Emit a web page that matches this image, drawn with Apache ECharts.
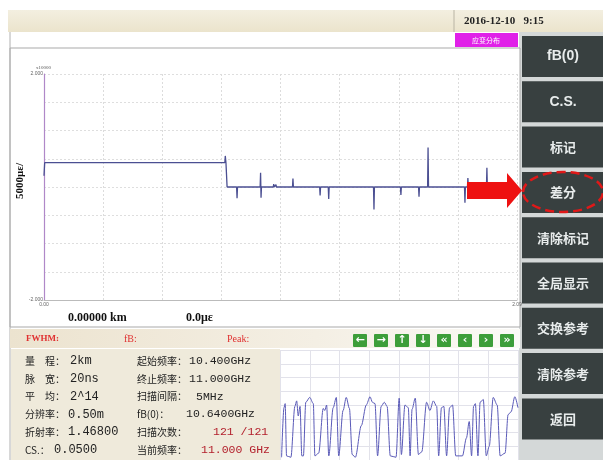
<!DOCTYPE html>
<html><head><meta charset="utf-8">
<script src="https://cdn.jsdelivr.net/npm/echarts@6/dist/echarts.min.js"></script>
<style>html,body{margin:0;padding:0;background:#fff}#c{width:603px;height:460px}</style>
</head><body><div id="c"></div>
<script>
// ---- main strain trace (distance km, strain x10000 με) ----
var distKm = [0, 0.003, 0.799, 0.801, 0.804, 0.806, 0.809, 0.851, 0.853, 0.855, 0.955, 0.957, 0.959, 0.961, 1.013, 1.015, 1.017, 1.023, 1.025, 1.027, 1.098, 1.100, 1.102, 1.218, 1.220, 1.222, 1.256, 1.258, 1.260, 1.456, 1.458, 1.460, 1.575, 1.577, 1.579, 1.655, 1.657, 1.659, 1.695, 1.697, 1.699, 1.858, 1.860, 1.862, 1.871, 1.873, 1.875, 1.955, 1.957, 1.959, 2.09];
var strain = [0.20, 0.43, 0.43, 0.55, 0.43, 0.26, 0.0, 0.0, -0.20, 0.0, 0.0, 0.25, -0.19, 0.0, 0.0, 0.05, 0.0, 0.0, 0.04, 0.0, 0.0, 0.15, 0.0, 0.0, -0.15, 0.0, 0.0, -0.21, 0.0, 0.0, -0.40, 0.0, 0.0, -0.14, 0.0, 0.0, -0.17, 0.0, 0.0, 0.70, 0.0, 0.0, -0.28, 0.0, 0.0, 0.16, 0.0, 0.0, 0.34, 0.0, 0.0];
var yTickLabels = ['-2.000', '2.000'];
var xTickLabels = ['0.00', '2.09'];

// ---- lower spectrum (scan index 0..120, relative level) ----
var scanIdx = [0.8, 2.0, 2.6, 3.3, 5.5, 7.5, 8.4, 9.2, 10.1, 11.0, 11.8, 13.0, 15.0, 16.8, 17.6, 19.5, 21.8, 22.6, 23.5, 24.6, 26.8, 28.4, 29.6, 31.8, 33.4, 35.0, 36.4, 38.0, 41.0, 43.5, 45.4, 46.6, 47.9, 49.2, 51.0, 52.6, 54.0, 55.6, 58.5, 60.1, 61.2, 63.0, 64.7, 65.6, 66.6, 68.2, 69.8, 71.5, 73.9, 75.6, 77.3, 79.0, 80.0, 81.4, 82.6, 84.0, 85.5, 87.0, 88.6, 92.0, 94.0, 95.4, 96.6, 97.6, 98.5, 99.8, 100.9, 102.5, 104.0, 105.5, 107.5, 109.5, 111.0, 113.5, 115.0, 116.5, 118.4, 120];
var level = [0.2, 3.8, 4.1, 0.3, 0.2, 3.9, 4.3, 3.2, 3.9, 0.3, 0.3, 4.2, 4.55, 4.1, 0.3, 0.5, 3.75, 3.6, 4.0, 0.3, 3.8, 4.55, 0.3, 3.6, 4.55, 3.75, 0.4, 0.2, 2.5, 4.0, 4.6, 4.2, 4.1, 0.3, 3.9, 4.2, 3.9, 0.3, 0.2, 4.5, 0.4, 4.0, 3.8, 0.3, 3.7, 4.5, 0.4, 0.6, 4.2, 3.6, 4.3, 3.9, 0.3, 3.8, 3.9, 0.3, 3.8, 4.0, 0.3, 0.3, 1.6, 2.8, 0.3, 3.9, 4.1, 0.3, 4.2, 4.4, 0.3, 1.0, 4.55, 4.0, 0.3, 0.5, 3.3, 3.5, 4.6, 3.8];

// ---- UI texts ----
var buttons = ['fB(0)', 'C.S.', '标记', '差分', '清除标记', '全局显示', '交换参考', '清除参考', '返回'];
var infoLeftLabel = ['量　程：', '脉　宽：', '平　均：', '分辨率：', '折射率：', 'CS.：'];
var infoLeftValue = ['2km', '20ns', '2^14', '0.50m', '1.46800', '0.0500'];
var infoRightLabel = ['起始频率：', '终止频率：', '扫描间隔：', 'fB(0)：', '扫描次数：', '当前频率：'];
var infoRightValue = ['10.400GHz', '11.000GHz', '5MHz', '10.6400GHz', '121 /121', '11.000 GHz'];
var navArrows = ['←', '→', '↑', '↓', '«', '‹', '›', '»'];

(function () {
var chart = echarts.init(document.getElementById('c'), null, {renderer: 'canvas'});
var CJK = '"Noto Sans CJK SC", sans-serif';
var SERIF = '"Liberation Serif", "DejaVu Serif", serif';
var MONO = '"Liberation Mono", "DejaVu Sans Mono", monospace';
function lin(x2, y2, stops) { return {type: 'linear', x: 0, y: 0, x2: x2, y2: y2, colorStops: stops}; }

var leftValX = [70, 70, 70, 68, 68, 54];
var rightValX = [189, 189, 196, 186, 213, 201];
var rightValColor = ['#222', '#222', '#222', '#222', '#b3202c', '#b3202c'];

var g = [];
g.push({type: 'rect', z: -20, shape: {x: 8, y: 10, width: 595, height: 22}, style: {fill: lin(0, 1, [{offset: 0, color: '#f3efe0'}, {offset: 1, color: '#ebe4cc'}])}});
g.push({type: 'line', z: -19, shape: {x1: 454, y1: 10, x2: 454, y2: 32}, style: {stroke: '#b9b4a4', lineWidth: 1}});
g.push({type: 'text', z: 5, style: {x: 464, y: 21, text: '2016-12-10   9:15', font: 'bold 11px ' + SERIF, fill: '#222', verticalAlign: 'middle'}});
g.push({type: 'rect', z: -19, shape: {x: 10, y: 48, width: 510, height: 279}, style: {fill: '#fff', stroke: '#a9a9a9', lineWidth: 1}});
g.push({type: 'line', z: -18, shape: {x1: 10, y1: 32, x2: 10, y2: 460}, style: {stroke: '#b0b0b0', lineWidth: 1}});
g.push({type: 'rect', z: 1, shape: {x: 455, y: 33, width: 63, height: 14}, style: {fill: '#e020e8'}});
g.push({type: 'text', z: 2, style: {x: 486, y: 40, text: '应变分布', font: '7px ' + CJK, fill: '#fff', align: 'center', verticalAlign: 'middle'}});
g.push({type: 'rect', z: -20, shape: {x: 519, y: 32, width: 84, height: 428}, style: {fill: '#d4d8d8'}});
for (var i = 0; i < buttons.length; i++) {
  var btnTop = 36 + i * 45.3;
  g.push({type: 'rect', z: -18, shape: {x: 522, y: btnTop, width: 81, height: 41}, style: {fill: '#384040'}});
  var latin = /^[A-Za-z]/.test(buttons[i]);
  g.push({type: 'text', z: 3, style: {x: 563, y: btnTop + 20.5, text: buttons[i], font: (latin ? 'bold 14px "Liberation Sans", Arial' : 'bold 13px ' + CJK), fill: '#e8ecec', align: 'center', verticalAlign: 'middle'}});
}
g.push({type: 'rect', z: -18, shape: {x: 10, y: 329, width: 510, height: 19}, style: {fill: lin(1, 0, [{offset: 0, color: '#ece3cf'}, {offset: 0.6, color: '#f4efe4'}, {offset: 1, color: '#fbfaf6'}])}});
g.push({type: 'text', z: 3, style: {x: 26, y: 339, text: 'FWHM:', font: 'bold 9px ' + SERIF, fill: '#e03030', verticalAlign: 'middle'}});
g.push({type: 'text', z: 3, style: {x: 124, y: 339, text: 'fB:', font: '10px ' + SERIF, fill: '#e03030', verticalAlign: 'middle'}});
g.push({type: 'text', z: 3, style: {x: 227, y: 339, text: 'Peak:', font: '10px ' + SERIF, fill: '#e03030', verticalAlign: 'middle'}});
for (var j = 0; j < navArrows.length; j++) {
  var bx = 353 + j * 21;
  g.push({type: 'rect', z: 2, shape: {x: bx, y: 334, width: 14, height: 13, r: 1}, style: {fill: '#3d9e3a'}});
  g.push({type: 'text', z: 3, style: {x: bx + 7, y: 340.5, text: navArrows[j], font: 'bold 11px "DejaVu Sans"', fill: '#fff', align: 'center', verticalAlign: 'middle'}});
}
g.push({type: 'text', z: 3, style: {x: 68, y: 318, text: '0.00000 km', font: 'bold 12px ' + SERIF, fill: '#111', verticalAlign: 'middle'}});
g.push({type: 'text', z: 3, style: {x: 186, y: 318, text: '0.0με', font: 'bold 12px ' + SERIF, fill: '#111', verticalAlign: 'middle'}});
g.push({type: 'text', z: 3, style: {x: 36, y: 68, text: 'x10000', font: '5px ' + SERIF, fill: '#555', verticalAlign: 'middle'}});
g.push({type: 'text', z: 3, rotation: Math.PI / 2, x: 20, y: 181, style: {x: 0, y: 0, text: '5000με/', font: 'bold 11px ' + SERIF, fill: '#111', align: 'center', verticalAlign: 'middle'}});
g.push({type: 'rect', z: -19, shape: {x: 11, y: 349, width: 269, height: 111}, style: {fill: '#efeadb'}});
g.push({type: 'rect', z: -19, shape: {x: 280, y: 349, width: 239, height: 111}, style: {fill: '#fff'}});
for (var k = 0; k < infoLeftLabel.length; k++) {
  var ry = 361 + k * 17.8;
  g.push({type: 'text', z: 3, style: {x: 25, y: ry, text: infoLeftLabel[k], font: '10px ' + CJK, fill: '#222', verticalAlign: 'middle'}});
  g.push({type: 'text', z: 3, style: {x: leftValX[k], y: ry, text: infoLeftValue[k], font: '12px ' + MONO, fill: '#222', verticalAlign: 'middle'}});
  g.push({type: 'text', z: 3, style: {x: 137, y: ry, text: infoRightLabel[k], font: '10px ' + CJK, fill: '#222', verticalAlign: 'middle'}});
  g.push({type: 'text', z: 3, style: {x: rightValX[k], y: ry, text: infoRightValue[k], font: '11.5px ' + MONO, fill: rightValColor[k], verticalAlign: 'middle'}});
}
g.push({type: 'polygon', z: 50, shape: {points: [[467, 182], [507, 182], [507, 173], [522, 190.5], [507, 208], [507, 199], [467, 199]]}, style: {fill: '#ee1111'}});
g.push({type: 'ellipse', z: 50, shape: {cx: 563, cy: 192, rx: 40, ry: 20}, style: {fill: 'none', stroke: '#e01818', lineWidth: 2.5, lineDash: [9, 5]}});

var option = {
  animation: false,
  backgroundColor: '#ffffff',
  graphic: {elements: g},
  grid: [
    {left: 44, top: 74, width: 473, height: 226, containLabel: false},
    {left: 280, top: 350, width: 238, height: 116, containLabel: false, show: false}
  ],
  xAxis: [
    {type: 'value', gridIndex: 0, min: 0, max: 2.09, interval: 0.26125,
     axisLine: {show: true, onZero: false, lineStyle: {color: '#bbbbbb', width: 1}},
     axisTick: {show: false},
     splitLine: {show: true, lineStyle: {color: '#dcdcdc', type: [2, 2], width: 1}},
     axisLabel: {show: true, margin: 2, fontSize: 5, color: '#666', fontFamily: 'Liberation Sans',
       formatter: function (v) { if (v === 0) return xTickLabels[0]; if (Math.abs(v - 2.09) < 1e-6) return xTickLabels[1]; return ''; }}},
    {type: 'value', gridIndex: 1, min: 0, max: 120, interval: 15,
     axisLine: {show: false}, axisTick: {show: false}, axisLabel: {show: false},
     splitLine: {show: true, lineStyle: {color: '#e2e2ea', width: 1}}}
  ],
  yAxis: [
    {type: 'value', gridIndex: 0, min: -2, max: 2, interval: 0.5,
     axisLine: {show: true, lineStyle: {color: '#b088c8', width: 1.2}},
     axisTick: {show: false},
     splitLine: {show: true, lineStyle: {color: '#dedede', type: [2, 2], width: 1}},
     axisLabel: {show: true, margin: 1, fontSize: 5, color: '#666', fontFamily: 'Liberation Sans',
       formatter: function (v) { if (v === -2) return yTickLabels[0]; if (v === 2) return yTickLabels[1]; return ''; }}},
    {type: 'value', gridIndex: 1, min: 0, max: 8, interval: 1,
     axisLine: {show: false}, axisTick: {show: false}, axisLabel: {show: false},
     splitLine: {show: true, lineStyle: {color: '#e2e2ea', width: 1}}}
  ],
  series: [
    {type: 'line', xAxisIndex: 0, yAxisIndex: 0, showSymbol: false, symbol: 'none',
     lineStyle: {color: '#4b4f92', width: 1.3},
     data: distKm.map(function (d, i) { return [d, strain[i]]; })},
    {type: 'line', xAxisIndex: 1, yAxisIndex: 1, showSymbol: false, symbol: 'none',
     smooth: 0.3, smoothMonotone: 'x',
     lineStyle: {color: '#5a5ab8', width: 1},
     data: scanIdx.map(function (d, i) { return [d, level[i]]; })}
  ]
};
chart.setOption(option);
})();
</script>
</body></html>
